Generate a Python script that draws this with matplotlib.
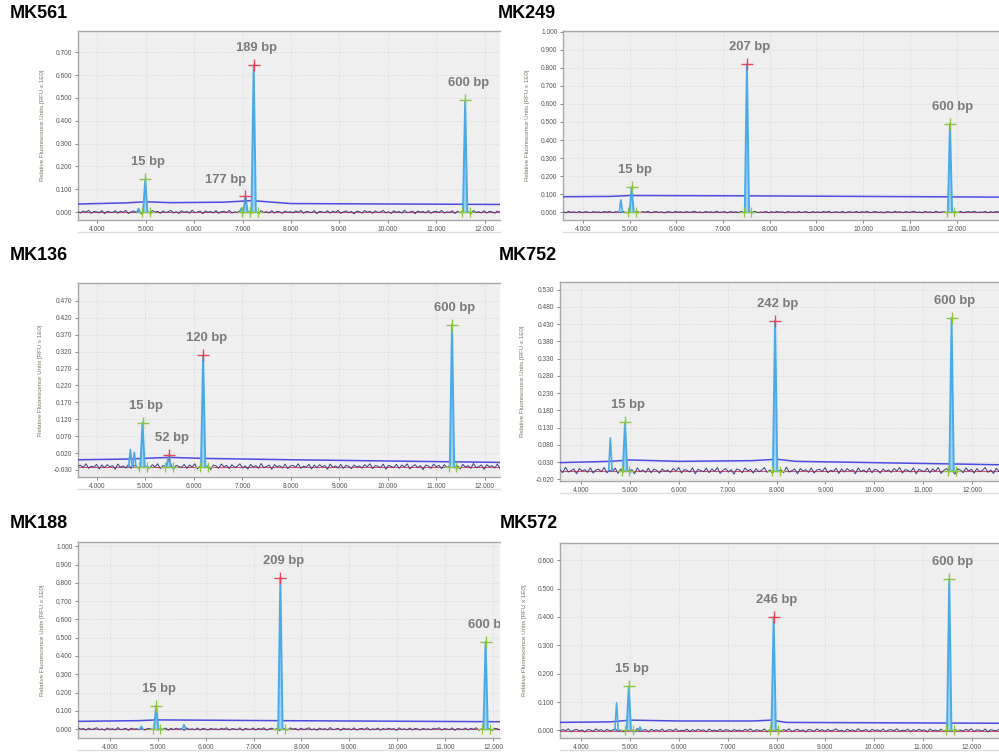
import numpy as np
import matplotlib
matplotlib.use("Agg")
import matplotlib.pyplot as plt
from matplotlib.ticker import FormatStrFormatter, MultipleLocator
from matplotlib.lines import Line2D

plt.rcParams['font.family'] = ['Liberation Sans', 'DejaVu Sans']

# ---- data ----
names = ["MK561", "MK249", "MK136", "MK752", "MK188", "MK572"]

# labelled peaks: migration time (s x 1000), peak height (RFU), label, ladder/sample
mk561_x = [4.99, 7.06, 7.23, 11.60]
mk561_h = [0.143, 0.068, 0.643, 0.490]
mk561_lab = ["15 bp", "177 bp", "189 bp", "600 bp"]
mk561_kind = ["ladder", "sample", "sample", "ladder"]

mk249_x = [5.04, 7.51, 11.86]
mk249_h = [0.138, 0.820, 0.490]
mk249_lab = ["15 bp", "207 bp", "600 bp"]
mk249_kind = ["ladder", "sample", "ladder"]

mk136_x = [4.94, 5.48, 6.19, 11.32]
mk136_h = [0.110, 0.014, 0.310, 0.400]
mk136_lab = ["15 bp", "52 bp", "120 bp", "600 bp"]
mk136_kind = ["ladder", "sample", "sample", "ladder"]

mk752_x = [4.90, 7.97, 11.58]
mk752_h = [0.145, 0.439, 0.448]
mk752_lab = ["15 bp", "242 bp", "600 bp"]
mk752_kind = ["ladder", "sample", "ladder"]

mk188_x = [4.97, 7.56, 11.84]
mk188_h = [0.127, 0.829, 0.478]
mk188_lab = ["15 bp", "209 bp", "600 bp"]
mk188_kind = ["ladder", "sample", "ladder"]

mk572_x = [4.97, 7.94, 11.54]
mk572_h = [0.155, 0.399, 0.534]
mk572_lab = ["15 bp", "246 bp", "600 bp"]
mk572_kind = ["ladder", "sample", "ladder"]

# small unlabelled peaks
mk561_sx = [4.85, 6.98]
mk561_sh = [0.015, 0.018]
mk249_sx = [4.81]
mk249_sh = [0.068]
mk136_sx = [4.69, 4.77]
mk136_sh = [0.030, 0.022]
mk752_sx = [4.60]
mk752_sh = [0.100]
mk188_sx = [4.66, 5.55]
mk188_sh = [0.015, 0.024]
mk572_sx = [4.72, 5.20]
mk572_sh = [0.097, 0.012]

# baseline level of each trace
baselines = [0.0, 0.0, -0.02, 0.005, 0.0, 0.0]

# detection threshold (blue line)
mk561_tx = [3.6, 4.6, 5.0, 5.5, 6.6, 7.2, 7.5, 8.0, 12.4]
mk561_ty = [0.035, 0.040, 0.045, 0.041, 0.043, 0.050, 0.045, 0.037, 0.033]
mk249_tx = [3.5, 4.6, 5.0, 7.5, 12.95]
mk249_ty = [0.085, 0.087, 0.092, 0.090, 0.083]
mk136_tx = [3.6, 4.6, 5.5, 6.2, 8.0, 12.4]
mk136_ty = [0.000, 0.002, 0.007, 0.004, 0.000, -0.008]
mk752_tx = [3.5, 4.6, 5.0, 6.0, 7.5, 8.0, 8.4, 12.6]
mk752_ty = [0.028, 0.032, 0.036, 0.032, 0.034, 0.038, 0.032, 0.022]
mk188_tx = [3.3, 4.6, 5.0, 7.5, 12.2]
mk188_ty = [0.042, 0.046, 0.050, 0.046, 0.040]
mk572_tx = [3.5, 4.6, 5.0, 6.0, 7.5, 7.9, 8.2, 12.6]
mk572_ty = [0.028, 0.030, 0.036, 0.033, 0.033, 0.036, 0.028, 0.025]

# baseline noise pattern (relative units)
noise = [0.2, -0.5, 0.6, -0.1, 0.9, -0.7, 0.3, 0.1, -0.4, 0.8, -0.9, 0.4, 0.0, -0.3, 0.7, -0.6,
         0.5, -0.2, 0.9, -0.8, 0.1, 0.6, -0.4, 0.3, -1.0, 0.5, 0.2, -0.6, 0.8, -0.1, 0.4, -0.7,
         0.6, -0.3, 0.1, 0.9, -0.5, 0.2, -0.8, 0.7, -0.2, 0.3, -0.6, 1.0, -0.4, 0.0, 0.5, -0.9,
         0.6, -0.1, 0.3, -0.5, 0.8, -0.7, 0.2, 0.4, -0.3, 0.9, -0.6, 0.1, -0.2, 0.7, -0.8, 0.5,
         -0.4, 0.6, -0.1, 0.3, -0.9, 0.8, -0.3, 0.2, -0.5, 0.7, -0.6, 0.4, 0.1, -0.7, 0.5, -0.2]
noise_amp = [0.008, 0.005, 0.009, 0.010, 0.008, 0.006]

# axis ranges / ticks
xlims = [(3.60, 12.32), (3.57, 12.91), (3.61, 12.31), (3.57, 12.55), (3.34, 12.14), (3.56, 12.56)]
ylims = [(-0.035, 0.793), (-0.044, 1.005), (-0.051, 0.523), (-0.025, 0.552), (-0.049, 1.024), (-0.027, 0.661)]
ytick_start = [0.0, 0.0, -0.03, -0.02, 0.0, 0.0]
ytick_step = [0.1, 0.1, 0.05, 0.05, 0.1, 0.1]
ytick_stop = [0.7, 1.0, 0.47, 0.53, 1.0, 0.6]

peaks = [(mk561_x, mk561_h, mk561_lab, mk561_kind), (mk249_x, mk249_h, mk249_lab, mk249_kind),
         (mk136_x, mk136_h, mk136_lab, mk136_kind), (mk752_x, mk752_h, mk752_lab, mk752_kind),
         (mk188_x, mk188_h, mk188_lab, mk188_kind), (mk572_x, mk572_h, mk572_lab, mk572_kind)]
small = [(mk561_sx, mk561_sh), (mk249_sx, mk249_sh), (mk136_sx, mk136_sh),
         (mk752_sx, mk752_sh), (mk188_sx, mk188_sh), (mk572_sx, mk572_sh)]
thresholds = [(mk561_tx, mk561_ty), (mk249_tx, mk249_ty), (mk136_tx, mk136_ty),
              (mk752_tx, mk752_ty), (mk188_tx, mk188_ty), (mk572_tx, mk572_ty)]

# ---- layout (pixel boxes: left, top, right, bottom) ----
W, H = 999, 754
boxes = [(78, 31, 500, 220), (563, 31, 999, 220),
         (78, 283, 500, 477), (560, 282, 999, 481),
         (78, 542, 500, 738), (560, 543, 999, 738)]
title_pos = [(10, 14), (498, 14), (10, 256), (499, 256), (10, 524), (500, 524)]
# label offsets in pixels (default above the peak)
special_offsets = {"177 bp": (-20, 16)}

blue = "#4aaae8"
green = "#8cc63f"
red = "#e8435a"

fig = plt.figure(figsize=(W / 100, H / 100), dpi=100)

for i in range(6):
    l, t, r, b = boxes[i]
    ax = fig.add_axes([l / W, 1 - b / H, (r - l) / W, (b - t) / H])
    ax.set_facecolor("#efefef")
    x0, x1 = xlims[i]
    base = baselines[i]

    # noisy baseline
    xs = np.linspace(x0, x1, 160)
    pattern = np.roll(np.tile(noise, 2), i * 13)
    ax.axhline(base - 0.001, color="#d9506a", lw=0.8, zorder=2)
    ax.plot(xs, base + noise_amp[i] * pattern, color="#3d3d85", lw=0.7, zorder=3)

    # threshold
    tx, ty = thresholds[i]
    ax.plot(tx, ty, color="#4b4be0", lw=1.1, zorder=3)

    # small peaks
    for sx, sh in zip(*small[i]):
        ax.plot([sx - 0.035, sx, sx + 0.035], [base, sh, base], color=blue, lw=1.2, zorder=4)

    # labelled peaks
    px, ph, plab, pkind = peaks[i]
    for x, h, lab, kind in zip(px, ph, plab, pkind):
        ax.fill([x - 0.05, x, x + 0.05], [base, h, base], color="#9fd3f5", lw=0, zorder=4)
        ax.plot([x - 0.045, x, x + 0.045], [base, h, base], color=blue, lw=1.4, zorder=5)
        ax.plot([x + 0.07, x + 0.12], [base, base - 0.006], color="#4ad0e8", lw=0.9, zorder=5)
        ax.plot(x, h, marker="+", ms=9, mew=1.0, color=green if kind == "ladder" else red, zorder=6)
        ax.plot([x - 0.07, x + 0.09], [base, base], ls="none", marker="+", ms=7, mew=0.9,
                color=green, zorder=6)
        dx, dy = special_offsets.get(lab, (3, 17))
        txt = ax.annotate(lab, (x, h), xytext=(dx, dy), textcoords="offset pixels",
                          ha="center", va="center", fontsize=9.4, fontweight="bold",
                          color="#7a7a7a", annotation_clip=False, zorder=7)
        # panels are cropped screenshots: cut labels at the plot edge
        txt.set_clip_path(ax.patch)
        txt.set_clip_on(True)

    ax.set_xlim(x0, x1)
    ax.set_ylim(*ylims[i])
    ax.xaxis.set_major_locator(MultipleLocator(1.0))
    yt = np.arange(ytick_start[i], ytick_stop[i] + 1e-6, ytick_step[i])
    ax.set_yticks(yt)
    ax.xaxis.set_major_formatter(FormatStrFormatter("%.3f"))
    ax.yaxis.set_major_formatter(FormatStrFormatter("%.3f"))
    ax.tick_params(labelsize=4.8, colors="#555555", length=2, width=0.5, pad=2)
    ax.grid(True, color="#dadada", ls=(0, (3, 2)), lw=0.5)
    ax.set_axisbelow(True)
    for s in ["left", "top", "bottom"]:
        ax.spines[s].set_color("#a8a8a8")
        ax.spines[s].set_linewidth(1.0)
    ax.spines["right"].set_visible(False)
    ax.set_ylabel("Relative Fluorescence Units [RFU x 1E0]", fontsize=4.4, color="#777760", labelpad=8)
    ax.add_line(Line2D([0, 1], [-12 / (b - t)] * 2, transform=ax.transAxes, color="#dddddd",
                       lw=1.0, clip_on=False))

    tx_, ty_ = title_pos[i]
    fig.text(tx_ / W, 1 - ty_ / H, names[i], fontsize=13, fontweight="bold", color="black",
             ha="left", va="center")

fig.savefig("out.png", dpi=100)
